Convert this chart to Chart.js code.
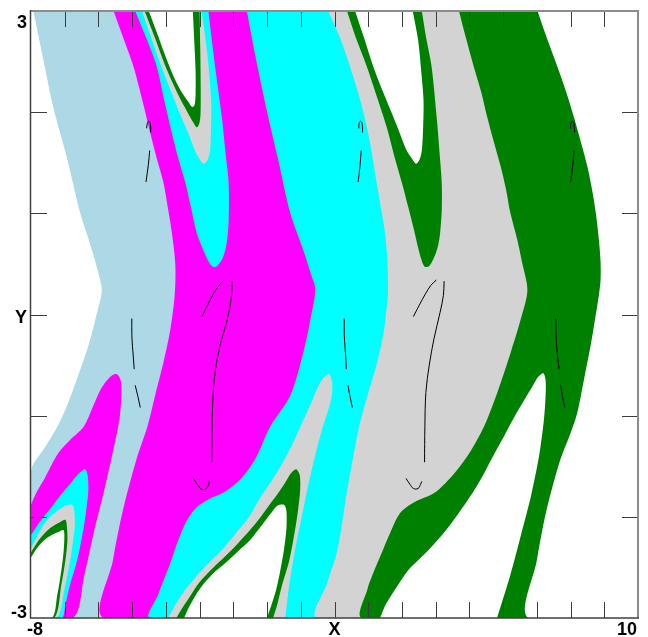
<!DOCTYPE html>
<html>
<head>
<meta charset="utf-8">
<script src="https://cdn.jsdelivr.net/npm/chart.js@4.4.1/dist/chart.umd.min.js"></script>
<style>
  html, body { margin: 0; padding: 0; background: #ffffff; }
  canvas { display: block; }
</style>
</head>
<body>
<canvas id="basins" width="648" height="637"></canvas>
<script>
// ---- axes -------------------------------------------------------------
const xRange = [-8, 10];
const yRange = [-3, 3];
const xTicks = [-7, -6, -5, -4, -3, -2, -1, 0, 1, 2, 3, 4, 5, 6, 7, 8, 9];
const yTicks = [-2, -1, 0, 1, 2];
const xLabelValues = [-8, 1, 10];
const xLabelTexts = ['-8', 'X', '10'];
const yLabelValues = [3, 0, -3];
const yLabelTexts = ['3', 'Y', '-3'];

// ---- basin outlines, [x, y] ------------------------------------------
// Each outline encloses every point whose basin index is at least that
// colour's index; later outlines are painted over earlier ones.
const lightBlueBand = [[-7.93,3.00],[-7.64,2.53],[-7.34,2.05],[-6.92,1.53],[-6.54,1.00],[-6.24,0.69],[-6.01,0.42],[-5.90,0.24],[-6.04,0.02],[-6.29,-0.30],[-6.64,-0.64],[-6.93,-0.90],[-7.22,-1.11],[-7.58,-1.31],[-8.00,-1.55],[-8,-3],[10,-3],[10,3]];

const magentaTongueLow = [[-8.00,-1.88],[-7.84,-1.76],[-7.58,-1.61],[-7.19,-1.37],[-6.84,-1.24],[-6.44,-1.11],[-6.15,-0.90],[-5.95,-0.75],[-5.77,-0.66],[-5.59,-0.60],[-5.45,-0.59],[-5.34,-0.65],[-5.32,-0.80],[-5.38,-1.04],[-5.56,-1.34],[-5.83,-1.74],[-6.12,-2.13],[-6.42,-2.58],[-6.75,-3.00],[-8,-3]];
const magentaBand = [[-5.55,3.00],[-5.26,2.73],[-4.96,2.45],[-4.70,2.12],[-4.46,1.79],[-4.26,1.53],[-4.07,1.30],[-3.93,1.03],[-3.82,0.80],[-3.72,0.49],[-3.74,0.19],[-3.87,-0.15],[-4.07,-0.47],[-4.32,-0.80],[-4.55,-1.11],[-4.88,-1.44],[-5.27,-1.93],[-5.57,-2.43],[-5.80,-3.00],[10,-3],[10,3]];

const cyanTongueLow = [[-8,-2.18],[-7.72,-2.04],[-7.38,-1.90],[-7.13,-1.79],[-6.78,-1.65],[-6.54,-1.56],[-6.39,-1.53],[-6.32,-1.59],[-6.30,-1.74],[-6.36,-1.93],[-6.45,-2.13],[-6.63,-2.43],[-6.84,-2.67],[-6.98,-2.87],[-7.09,-3.00],[-8,-3]];
const cyanTongueHigh = [[-4.91,3.00],[-4.58,2.73],[-4.27,2.45],[-4.05,2.12],[-3.82,1.79],[-3.63,1.54],[-3.42,1.30],[-3.25,1.05],[-3.08,0.80],[-2.83,0.59],[-2.69,0.50],[-2.59,0.47],[-2.48,0.48],[-2.34,0.54],[-2.21,0.68],[-2.14,0.91],[-2.14,1.30],[-2.24,1.62],[-2.34,1.95],[-2.54,2.45],[-2.74,3.00]];
const cyanBand = [[-1.60,3.00],[-1.32,2.51],[-1.01,2.02],[-0.67,1.53],[-0.31,1.00],[0.07,0.64],[0.31,0.39],[0.43,0.25],[0.28,-0.06],[0.08,-0.37],[-0.31,-0.80],[-0.91,-1.11],[-1.32,-1.41],[-1.74,-1.61],[-2.24,-1.75],[-2.75,-1.83],[-3.10,-1.91],[-3.40,-2.05],[-3.63,-2.23],[-3.87,-2.46],[-4.23,-2.77],[-4.46,-3.00],[10,-3],[10,3]];

const grayTongueLowLeft = [[-8,-2.31],[-7.67,-2.10],[-7.43,-2.00],[-7.18,-1.93],[-6.98,-1.89],[-6.78,-1.88],[-6.72,-1.93],[-6.70,-2.08],[-6.75,-2.23],[-6.84,-2.43],[-7.01,-2.72],[-7.24,-3.00],[-8,-3]];
const grayTongueHigh = [[-4.71,3.00],[-4.43,2.73],[-4.13,2.45],[-3.84,2.20],[-3.54,1.95],[-3.33,1.79],[-3.14,1.62],[-3.01,1.54],[-2.88,1.49],[-2.76,1.53],[-2.69,1.62],[-2.66,1.87],[-2.66,2.12],[-2.75,2.51],[-2.86,2.81],[-2.95,3.00]];
const grayTongueLow = [[-3.93,-3.00],[-3.72,-2.87],[-3.49,-2.75],[-3.25,-2.65],[-2.95,-2.53],[-2.63,-2.42],[-2.27,-2.30],[-1.92,-2.16],[-1.53,-2.00],[-1.20,-1.81],[-0.88,-1.65],[-0.58,-1.49],[-0.26,-1.29],[0.04,-1.07],[0.34,-0.85],[0.49,-0.73],[0.66,-0.63],[0.84,-0.59],[0.93,-0.67],[0.92,-0.80],[0.81,-0.95],[0.63,-1.14],[0.43,-1.39],[0.22,-1.69],[0.01,-2.03],[-0.20,-2.38],[-0.34,-2.67],[-0.46,-3.00]];
const grayBand = [[0.81,3.00],[1.17,2.73],[1.46,2.45],[1.73,2.16],[1.96,1.85],[2.12,1.57],[2.25,1.30],[2.38,1.05],[2.50,0.80],[2.57,0.52],[2.59,0.24],[2.57,0.14],[2.47,-0.15],[2.27,-0.47],[1.98,-0.80],[1.73,-1.11],[1.38,-1.73],[1.09,-2.32],[0.79,-2.65],[0.49,-3.00],[10,-3],[10,3]];

const greenTongueLowLeft = [[-8,-2.35],[-7.72,-2.21],[-7.43,-2.11],[-7.13,-2.05],[-6.98,-2.03],[-6.94,-2.08],[-6.92,-2.23],[-6.98,-2.43],[-7.10,-2.67],[-7.31,-3.00],[-8,-3]];
const greenTongueHigh = [[-4.63,3.00],[-4.32,2.73],[-4.02,2.46],[-3.63,2.17],[-3.36,2.00],[-3.19,1.90],[-3.08,1.85],[-3.00,1.90],[-2.97,2.02],[-2.97,2.32],[-2.98,2.61],[-3.00,3.00]];
const greenTongueLow = [[-3.69,-3.00],[-3.55,-2.92],[-3.31,-2.80],[-3.01,-2.65],[-2.65,-2.52],[-2.24,-2.39],[-1.86,-2.26],[-1.53,-2.14],[-1.23,-2.02],[-0.97,-1.90],[-0.70,-1.78],[-0.46,-1.66],[-0.29,-1.57],[-0.14,-1.53],[-0.03,-1.59],[-0.02,-1.74],[-0.08,-1.93],[-0.17,-2.13],[-0.34,-2.43],[-0.55,-2.67],[-0.70,-2.87],[-0.82,-3.00]];
const greenTongueHigh2 = [[1.37,3.00],[1.64,2.73],[1.96,2.45],[2.26,2.15],[2.55,1.85],[2.77,1.57],[3.00,1.30],[3.18,1.07],[3.34,0.86],[3.48,0.66],[3.60,0.52],[3.69,0.47],[3.81,0.48],[3.95,0.56],[4.07,0.68],[4.13,0.80],[4.18,1.03],[4.18,1.30],[4.11,1.62],[4.03,1.95],[3.88,2.45],[3.72,2.73],[3.59,3.00]];
const greenBand = [[4.69,3.00],[4.90,2.73],[5.13,2.45],[5.35,2.20],[5.53,1.95],[5.73,1.70],[5.93,1.46],[6.09,1.23],[6.21,1.01],[6.42,0.74],[6.56,0.52],[6.72,0.24],[6.52,-0.05],[6.23,-0.37],[5.83,-0.77],[5.43,-1.11],[5.02,-1.36],[4.63,-1.54],[4.28,-1.67],[3.93,-1.77],[3.34,-1.86],[2.95,-1.96],[2.65,-2.16],[2.37,-2.38],[2.12,-2.58],[1.98,-2.71],[1.83,-3.00],[10,-3],[10,3]];

const whiteCoreLowLeft = [[-8,-2.40],[-7.78,-2.29],[-7.49,-2.20],[-7.19,-2.15],[-7.04,-2.13],[-7.01,-2.18],[-7.03,-2.33],[-7.10,-2.53],[-7.22,-2.77],[-7.38,-3.00],[-8,-3]];
const whiteCoreHigh = [[-4.51,3.00],[-4.26,2.78],[-4.02,2.56],[-3.78,2.36],[-3.57,2.22],[-3.33,2.10],[-3.22,2.05],[-3.15,2.07],[-3.12,2.17],[-3.12,2.41],[-3.16,2.71],[-3.20,3.00]];
const whiteCoreLow = [[-3.46,-3.00],[-3.28,-2.87],[-3.01,-2.72],[-2.63,-2.57],[-2.21,-2.45],[-1.86,-2.34],[-1.53,-2.24],[-1.29,-2.14],[-1.06,-2.04],[-0.85,-1.95],[-0.70,-1.89],[-0.50,-1.88],[-0.43,-1.93],[-0.42,-2.08],[-0.46,-2.23],[-0.55,-2.43],[-0.73,-2.72],[-1.00,-3.00]];
const whiteCoreHigh2 = [[1.61,3.00],[1.88,2.73],[2.15,2.45],[2.44,2.20],[2.75,1.95],[2.95,1.78],[3.14,1.62],[3.30,1.54],[3.42,1.49],[3.52,1.53],[3.59,1.62],[3.63,1.87],[3.64,2.12],[3.57,2.41],[3.48,2.71],[3.32,3.00]];
const whiteTongueLow = [[2.35,-3.00],[2.53,-2.86],[2.83,-2.70],[3.18,-2.53],[3.54,-2.41],[3.92,-2.28],[4.31,-2.13],[4.69,-1.96],[5.02,-1.80],[5.35,-1.62],[5.67,-1.42],[6.00,-1.22],[6.32,-1.02],[6.62,-0.85],[6.89,-0.70],[7.03,-0.62],[7.19,-0.58],[7.26,-0.65],[7.26,-0.80],[7.21,-1.04],[7.07,-1.39],[6.83,-1.79],[6.53,-2.18],[6.21,-2.58],[5.82,-3.00]];
const whiteBand = [[7.02,3.00],[7.30,2.73],[7.61,2.45],[7.87,2.20],[8.10,1.95],[8.31,1.70],[8.50,1.46],[8.64,1.23],[8.75,1.00],[8.84,0.74],[8.89,0.52],[8.89,0.34],[8.84,0.19],[8.72,-0.06],[8.60,-0.30],[8.40,-0.64],[8.20,-0.97],[7.98,-1.19],[7.69,-1.44],[7.29,-1.93],[7.00,-2.43],[6.75,-3.00],[10,-3],[10,3]];

// ---- attractor traces --------------------------------------------------
const hookA1 = [[-4.57,1.84],[-4.55,1.89],[-4.51,1.91],[-4.46,1.89],[-4.45,1.80]];
const stemA1 = [[-4.48,1.62],[-4.52,1.48],[-4.59,1.31]];
const lineB1a = [[-5.01,-0.04],[-5.01,-0.20],[-4.99,-0.32],[-4.97,-0.40],[-4.94,-0.54]];
const lineB1b = [[-4.91,-0.70],[-4.83,-0.81],[-4.76,-0.92]];
const arcC1 = [[-2.93,-0.02],[-2.77,0.09],[-2.60,0.20],[-2.42,0.29],[-2.27,0.34]];
const stemC1 = [[-2.04,0.33],[-2.05,0.19],[-2.18,-0.05],[-2.39,-0.30],[-2.54,-0.57],[-2.61,-0.85],[-2.63,-1.14],[-2.64,-1.46]];
const cupC1 = [[-3.18,-1.62],[-3.07,-1.68],[-2.93,-1.73],[-2.80,-1.72],[-2.73,-1.68],[-2.71,-1.64]];

const hookA2 = [[1.72,1.84],[1.73,1.89],[1.77,1.91],[1.82,1.89],[1.83,1.80]];
const stemA2 = [[1.79,1.62],[1.76,1.48],[1.70,1.31]];
const lineB2a = [[1.29,-0.04],[1.29,-0.20],[1.31,-0.32],[1.33,-0.40],[1.35,-0.54]];
const lineB2b = [[1.40,-0.70],[1.46,-0.81],[1.53,-0.92]];
const arcC2 = [[3.34,-0.02],[3.51,0.09],[3.69,0.20],[3.86,0.29],[4.02,0.34]];
const stemC2 = [[4.25,0.33],[4.23,0.19],[4.13,0.02],[3.95,-0.24],[3.81,-0.50],[3.71,-0.77],[3.68,-1.11],[3.67,-1.46]];
const cupC2 = [[3.12,-1.62],[3.24,-1.68],[3.34,-1.72],[3.48,-1.72],[3.55,-1.68],[3.59,-1.65]];

const hookA3 = [[8.00,1.84],[8.01,1.89],[8.06,1.91],[8.10,1.89],[8.12,1.80]];
const stemA3 = [[8.10,1.62],[8.07,1.48],[8.00,1.31]];
const lineB3a = [[7.56,-0.04],[7.57,-0.20],[7.59,-0.32],[7.61,-0.40],[7.66,-0.54]];
const lineB3b = [[7.71,-0.70],[7.76,-0.81],[7.83,-0.92]];

// ---- styling -----------------------------------------------------------
const palette = {
  lightblue: '#add8e6',
  magenta: '#ff00ff',
  cyan: '#00ffff',
  gray: '#d3d3d3',
  green: '#008000',
  white: '#ffffff'
};

// painting order, back to front
const layers = [
  [lightBlueBand, 'lightblue'],
  [magentaTongueLow, 'magenta'], [magentaBand, 'magenta'],
  [cyanTongueLow, 'cyan'], [cyanTongueHigh, 'cyan'], [cyanBand, 'cyan'],
  [grayTongueLowLeft, 'gray'], [grayTongueHigh, 'gray'], [grayTongueLow, 'gray'], [grayBand, 'gray'],
  [greenTongueLowLeft, 'green'], [greenTongueHigh, 'green'], [greenTongueLow, 'green'], [greenTongueHigh2, 'green'], [greenBand, 'green'],
  [whiteCoreLowLeft, 'white'], [whiteCoreHigh, 'white'], [whiteCoreLow, 'white'], [whiteCoreHigh2, 'white'], [whiteTongueLow, 'white'], [whiteBand, 'white']
];

const traces = [hookA1, stemA1, lineB1a, lineB1b, arcC1, stemC1, cupC1,
                hookA2, stemA2, lineB2a, lineB2b, arcC2, stemC2, cupC2,
                hookA3, stemA3, lineB3a, lineB3b];

const toPoints = arr => arr.map(([x, y]) => ({x, y}));

const datasets = [];
layers.forEach(([pts, key], i) => {
  datasets.push({
    data: toPoints(pts),
    showLine: true,
    fill: 'shape',
    backgroundColor: palette[key],
    borderColor: palette[key],
    borderWidth: 0,
    pointRadius: 0,
    pointHoverRadius: 0,
    tension: 0.3,
    order: 1000 - i
  });
});
traces.forEach(pts => {
  datasets.push({
    data: toPoints(pts),
    showLine: true,
    fill: false,
    borderColor: '#000000',
    borderWidth: 1,
    pointRadius: 0,
    pointHoverRadius: 0,
    tension: 0.35,
    order: 0
  });
});

// frame, inward tick marks and axis labels
const frameAndLabels = {
  id: 'frameAndLabels',
  afterDraw(chart) {
    const {ctx, chartArea: a, scales: {x, y}} = chart;
    ctx.save();

    ctx.strokeStyle = '#3c3c3c';
    ctx.lineWidth = 1;
    ctx.beginPath();
    xTicks.forEach(v => {
      const px = Math.round(x.getPixelForValue(v)) + 0.5;
      ctx.moveTo(px, a.bottom); ctx.lineTo(px, a.bottom - 16);
      ctx.moveTo(px, a.top); ctx.lineTo(px, a.top + 16);
    });
    yTicks.forEach(v => {
      const py = Math.round(y.getPixelForValue(v)) + 0.5;
      ctx.moveTo(a.left, py); ctx.lineTo(a.left + 16, py);
      ctx.moveTo(a.right, py); ctx.lineTo(a.right - 16, py);
    });
    ctx.stroke();

    // top and right edges in grey, left and bottom darker
    ctx.strokeStyle = '#8c8c8c';
    ctx.lineWidth = 2;
    ctx.beginPath();
    ctx.moveTo(a.left, a.top); ctx.lineTo(a.right, a.top); ctx.lineTo(a.right, a.bottom);
    ctx.stroke();
    ctx.strokeStyle = '#404040';
    ctx.lineWidth = 1.5;
    ctx.beginPath();
    ctx.moveTo(a.left - 0.5, a.top - 1); ctx.lineTo(a.left - 0.5, a.bottom); ctx.lineTo(a.right + 1, a.bottom);
    ctx.stroke();

    ctx.fillStyle = '#000000';
    ctx.font = 'bold 18px "Liberation Sans", Arial, sans-serif';
    ctx.textBaseline = 'alphabetic';
    xLabelValues.forEach((v, i) => {
      const px = x.getPixelForValue(v);
      if (i === 0) { ctx.textAlign = 'left'; ctx.fillText(xLabelTexts[i], px - 4, a.bottom + 16.5); }
      else if (i === xLabelValues.length - 1) { ctx.textAlign = 'right'; ctx.fillText(xLabelTexts[i], px - 1, a.bottom + 16.5); }
      else { ctx.textAlign = 'center'; ctx.fillText(xLabelTexts[i], px, a.bottom + 16.5); }
    });
    ctx.textAlign = 'right';
    yLabelValues.forEach((v, i) => {
      const py = y.getPixelForValue(v);
      let base = py + 8;
      if (i === 0) base = py + 17;
      if (i === yLabelValues.length - 1) base = py;
      ctx.fillText(yLabelTexts[i], a.left - 4, base);
    });
    ctx.restore();
  }
};

new Chart(document.getElementById('basins'), {
  type: 'scatter',
  data: { datasets },
  options: {
    responsive: false,
    animation: false,
    devicePixelRatio: 1,
    events: [],
    layout: { padding: { left: 31, top: 11, right: 10, bottom: 19 } },
    scales: {
      x: { type: 'linear', min: xRange[0], max: xRange[1], display: false },
      y: { type: 'linear', min: yRange[0], max: yRange[1], display: false }
    },
    plugins: {
      legend: { display: false },
      tooltip: { enabled: false }
    }
  },
  plugins: [frameAndLabels]
});
</script>
</body>
</html>
